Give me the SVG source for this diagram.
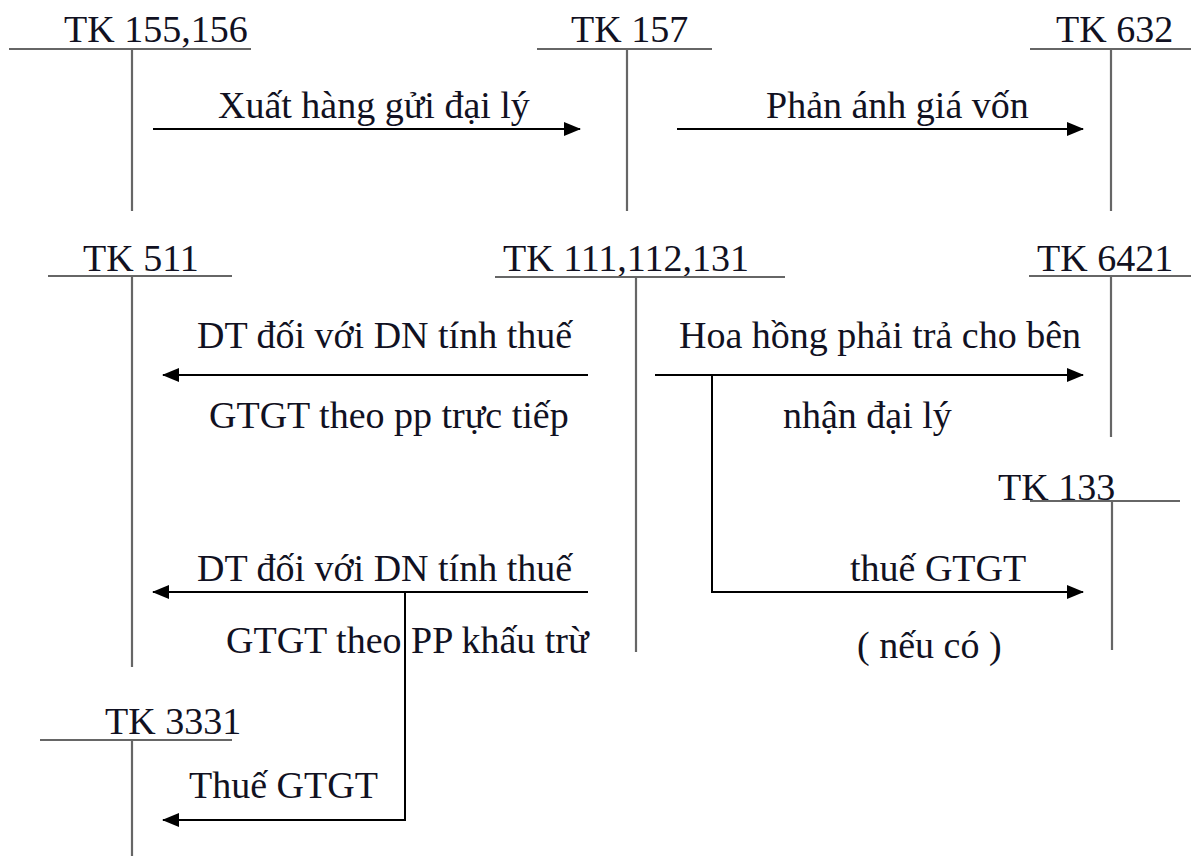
<svg xmlns="http://www.w3.org/2000/svg" width="1199" height="856" viewBox="0 0 1199 856">
  <style>
    .bg { fill: #ffffff; }
    .acct { stroke: #666666; stroke-width: 2.2; fill: none; }
    .flow { stroke: #000000; stroke-width: 2; fill: none; }
    .lbl { font-family: "Liberation Serif", "Times New Roman", serif; font-size: 38px; fill: #111122; }
  </style>
  <defs>
    <marker id="arrow" markerUnits="userSpaceOnUse" markerWidth="18" markerHeight="14" refX="16" refY="7" orient="auto">
      <path d="M0,0 L17,7 L0,14 Z" fill="#000000"/>
    </marker>
  </defs>
  <rect class="bg" x="0" y="0" width="1199" height="856"/>

  <!-- T-accounts -->
  <g id="tk155">
    <text class="lbl" x="64" y="42">TK 155,156</text>
    <path class="acct" d="M9,49 H251 M132,49 V211"/>
  </g>
  <g id="tk157">
    <text class="lbl" x="571" y="42">TK 157</text>
    <path class="acct" d="M537,49 H712 M627,49 V211"/>
  </g>
  <g id="tk632">
    <text class="lbl" x="1056" y="42">TK 632</text>
    <path class="acct" d="M1030,49 H1191 M1111,49 V211"/>
  </g>
  <g id="tk511">
    <text class="lbl" x="83" y="271">TK 511</text>
    <path class="acct" d="M48,276 H232 M132,276 V667"/>
  </g>
  <g id="tk111">
    <text class="lbl" x="503" y="271">TK 111,112,131</text>
    <path class="acct" d="M495,277 H785 M636,277 V652"/>
  </g>
  <g id="tk6421">
    <text class="lbl" x="1037" y="271">TK 6421</text>
    <path class="acct" d="M1029,276 H1191 M1111,276 V437"/>
  </g>
  <g id="tk133">
    <text class="lbl" x="998" y="500">TK 133</text>
    <path class="acct" d="M1030,501 H1180 M1112,501 V650"/>
  </g>
  <g id="tk3331">
    <text class="lbl" x="105" y="734">TK 3331</text>
    <path class="acct" d="M40,740 H232 M132,740 V856"/>
  </g>

  <!-- Connectors -->
  <g id="connectors">
    <path class="flow" d="M153,129 H580" marker-end="url(#arrow)"/>
    <path class="flow" d="M677,129 H1083" marker-end="url(#arrow)"/>
    <path class="flow" d="M588,375 H163" marker-end="url(#arrow)"/>
    <path class="flow" d="M655,375 H1083" marker-end="url(#arrow)"/>
    <path class="flow" d="M712,375 V592 H1083" marker-end="url(#arrow)"/>
    <path class="flow" d="M588,592 H153" marker-end="url(#arrow)"/>
    <path class="flow" d="M405,592 V820 H163" marker-end="url(#arrow)"/>
  </g>

  <!-- Connector labels -->
  <g id="labels">
    <text class="lbl" x="218" y="118">Xuất hàng gửi đại lý</text>
    <text class="lbl" x="766" y="118">Phản ánh giá vốn</text>
    <text class="lbl" x="197" y="348">DT đối với DN tính thuế</text>
    <text class="lbl" x="209" y="428">GTGT theo pp trực tiếp</text>
    <text class="lbl" x="679" y="348">Hoa hồng phải trả cho bên</text>
    <text class="lbl" x="783" y="428">nhận đại lý</text>
    <text class="lbl" x="850" y="581">thuế GTGT</text>
    <text class="lbl" x="857" y="658">( nếu có )</text>
    <text class="lbl" x="197" y="581">DT đối với DN tính thuế</text>
    <text class="lbl" x="226" y="653">GTGT theo PP khấu trừ</text>
    <text class="lbl" x="189" y="798">Thuế GTGT</text>
  </g>
</svg>
